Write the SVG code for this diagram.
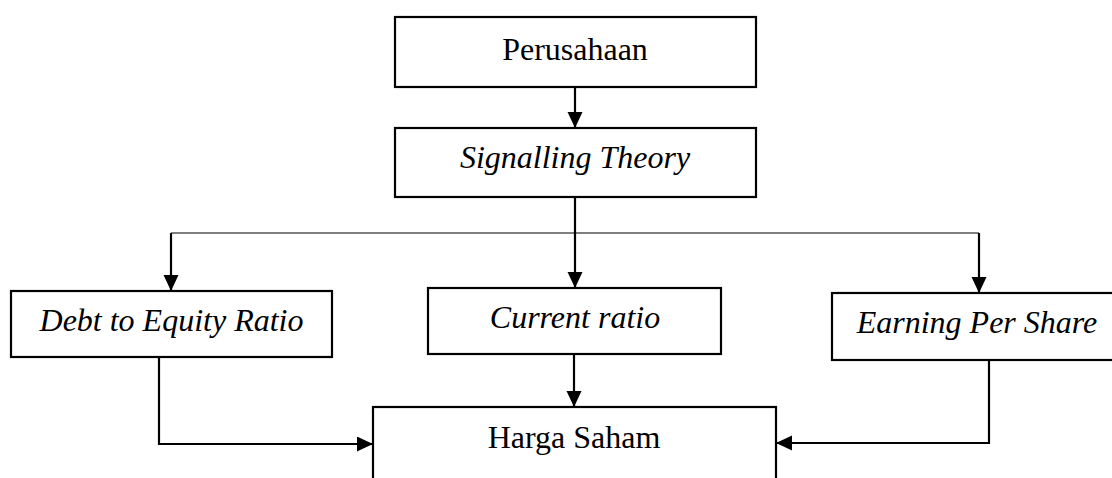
<svg xmlns="http://www.w3.org/2000/svg" width="1112" height="478" viewBox="0 0 1112 478">
<defs>
<style>
.box{fill:#fff;stroke:#000;stroke-width:2.2}
.t{font-family:"Liberation Serif","Times New Roman",serif;font-size:32px;fill:#000;text-anchor:middle}
.i{font-style:italic}
.c{fill:none;stroke:#000;stroke-width:2.2}
.thin{fill:none;stroke:#000;stroke-width:1.2}
</style>
<marker id="ah" markerUnits="userSpaceOnUse" markerWidth="17" markerHeight="16" refX="16" refY="7.5" orient="auto">
<path d="M0,0 L16,7.5 L0,15 z" fill="#000"/>
</marker>
</defs>
<rect width="1112" height="478" fill="#fff"/>
<g id="connectors">
<line class="c" x1="575" y1="87" x2="575" y2="128" marker-end="url(#ah)"/>
<line class="c" x1="575" y1="197" x2="575" y2="288" marker-end="url(#ah)"/>
<line class="thin" x1="171" y1="233" x2="979" y2="233"/>
<line class="c" x1="171" y1="233" x2="171" y2="291" marker-end="url(#ah)"/>
<line class="c" x1="979" y1="233" x2="979" y2="293" marker-end="url(#ah)"/>
<line class="c" x1="574" y1="354" x2="574" y2="407" marker-end="url(#ah)"/>
<polyline class="c" points="159,357 159,444 373,444" marker-end="url(#ah)"/>
<polyline class="c" points="989,360 989,443 776,443" marker-end="url(#ah)"/>
</g>
<g id="perusahaan">
<rect class="box" x="395" y="17" width="361" height="70"/>
<text class="t" x="575" y="60">Perusahaan</text>
</g>
<g id="signalling">
<rect class="box" x="395" y="128" width="361" height="69"/>
<text class="t i" x="575" y="168">Signalling Theory</text>
</g>
<g id="der">
<rect class="box" x="11" y="291" width="321" height="66"/>
<text class="t i" x="171.5" y="331">Debt to Equity Ratio</text>
</g>
<g id="cr">
<rect class="box" x="428" y="288" width="293" height="66"/>
<text class="t i" x="575" y="328">Current ratio</text>
</g>
<g id="eps">
<rect class="box" x="832" y="293" width="300" height="67"/>
<text class="t i" x="977" y="333">Earning Per Share</text>
</g>
<g id="harga">
<rect class="box" x="373" y="407" width="403" height="100"/>
<text class="t" x="574" y="448">Harga Saham</text>
</g>
</svg>
